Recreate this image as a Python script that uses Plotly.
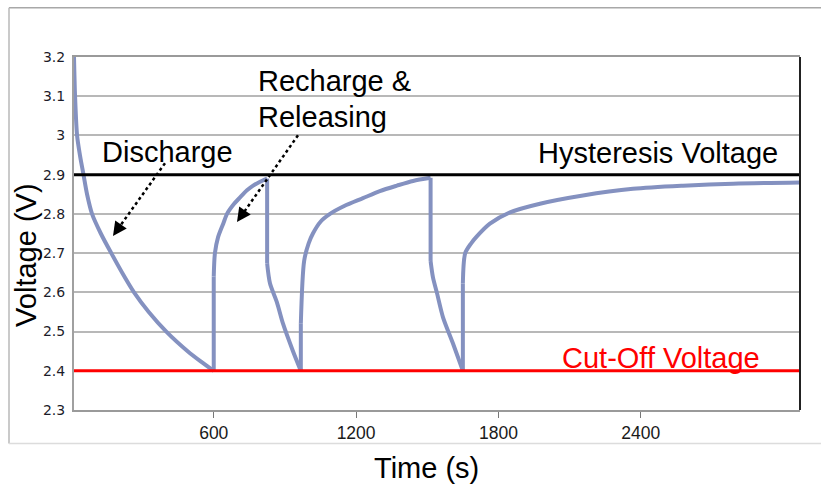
import plotly.graph_objects as go

# Cell voltage during pulsed discharge / rest cycles, one list pair per phase
discharge_1_t = [11, 15.5, 24, 36, 51, 66, 87, 124, 168, 214, 264, 326, 400, 490, 545, 600]
discharge_1_v = [3.2, 3.1, 3.0, 2.95, 2.90, 2.85, 2.80, 2.75, 2.70, 2.65, 2.60, 2.55, 2.50, 2.45, 2.424, 2.40]

recharge_1_t = [600, 605, 618, 640, 656, 685, 711, 740, 766, 795, 825]
recharge_1_v = [2.64, 2.70, 2.74, 2.775, 2.80, 2.825, 2.842, 2.86, 2.872, 2.882, 2.89]

discharge_2_t = [825, 837, 866, 892, 934, 967]
discharge_2_v = [2.674, 2.623, 2.575, 2.52, 2.45, 2.40]

recharge_2_t = [967, 981, 1000, 1018, 1050, 1090, 1150, 1229, 1300, 1372, 1440, 1514]
recharge_2_v = [2.52, 2.68, 2.725, 2.75, 2.78, 2.80, 2.82, 2.84, 2.858, 2.872, 2.884, 2.892]

discharge_3_t = [1514, 1524, 1541, 1566, 1608, 1650]
discharge_3_v = [2.68, 2.638, 2.598, 2.537, 2.47, 2.40]

recharge_3_t = [1650, 1660, 1685, 1708, 1764, 1849, 1975, 2156, 2367, 2578, 2789, 3071]
recharge_3_v = [2.623, 2.70, 2.725, 2.742, 2.775, 2.804, 2.826, 2.847, 2.864, 2.872, 2.877, 2.88]

phases = [
    (discharge_1_t, discharge_1_v),
    (recharge_1_t, recharge_1_v),
    (discharge_2_t, discharge_2_v),
    (recharge_2_t, recharge_2_v),
    (discharge_3_t, discharge_3_v),
    (recharge_3_t, recharge_3_v),
]

hysteresis_v = 2.9
cutoff_v = 2.4

x_ticks = [600, 1200, 1800, 2400]
y_ticks = [2.3, 2.4, 2.5, 2.6, 2.7, 2.8, 2.9, 3.0, 3.1, 3.2]
y_tick_text = ["2.3", "2.4", "2.5", "2.6", "2.7", "2.8", "2.9", "3", "3.1", "3.2"]

X0, X1 = 11, 3071
Y0, Y1 = 2.3, 3.2

W, H = 821, 489
PL, PR, PT, PB = 74, 800, 56.5, 410.5


def dx(px):
    return X0 + (px - PL) / (PR - PL) * (X1 - X0)


def dy(py):
    return Y1 - (py - PT) / (PB - PT) * (Y1 - Y0)


def paper_x(px):
    return (px - PL) / (PR - PL)


def paper_y(py):
    return (PB - py) / (PB - PT)


TXT = "Liberation Sans, Arial, sans-serif"
FS = 29
CURVE = "#8491c0"

# smooth phases joined by gaps; the instant steps between phases drawn straight
curve_t, curve_v, step_t, step_v = [], [], [], []
for i, (t, v) in enumerate(phases):
    curve_t += list(t) + [None]
    curve_v += list(v) + [None]
    if i + 1 < len(phases):
        nt, nv = phases[i + 1]
        step_t += [t[-1], nt[0], None]
        step_v += [v[-1], nv[0], None]

fig = go.Figure()
fig.add_trace(go.Scatter(
    x=step_t, y=step_v, mode="lines", connectgaps=False,
    line=dict(color=CURVE, width=4), hoverinfo="skip", showlegend=False,
))
fig.add_trace(go.Scatter(
    x=curve_t, y=curve_v, mode="lines", connectgaps=False,
    line=dict(color=CURVE, width=4, shape="spline", smoothing=0.8),
    hoverinfo="x+y", showlegend=False,
))

shapes = [
    # reference voltage lines
    dict(type="line", xref="paper", yref="y", x0=0, x1=1, y0=hysteresis_v, y1=hysteresis_v,
         line=dict(color="#000000", width=3)),
    dict(type="line", xref="paper", yref="y", x0=0, x1=1, y0=cutoff_v, y1=cutoff_v,
         line=dict(color="#ff0000", width=3)),
    # right border of plot area
    dict(type="line", xref="paper", yref="paper", x0=1, x1=1, y0=0, y1=1,
         line=dict(color="#222222", width=2)),
    # outer frame
    dict(type="line", xref="paper", yref="paper", x0=paper_x(9), x1=paper_x(830),
         y0=paper_y(7), y1=paper_y(7), line=dict(color="#a8a8a8", width=1.5)),
    dict(type="line", xref="paper", yref="paper", x0=paper_x(9), x1=paper_x(9),
         y0=paper_y(7), y1=paper_y(444), line=dict(color="#b8b8b8", width=1.5)),
    dict(type="line", xref="paper", yref="paper", x0=paper_x(9), x1=paper_x(830),
         y0=paper_y(444), y1=paper_y(444), line=dict(color="#dcdcdc", width=1.5)),
    # dotted pointer lines
    dict(type="line", xref="x", yref="y", x0=dx(165), y0=dy(163), x1=dx(120), y1=dy(226),
         line=dict(color="#000000", width=2.5, dash="dot")),
    dict(type="line", xref="x", yref="y", x0=dx(298), y0=dy(135), x1=dx(244), y1=dy(212),
         line=dict(color="#000000", width=2.5, dash="dot")),
]

annotations = [
    dict(text="Discharge", x=dx(100), y=dy(152), xanchor="left", yanchor="middle"),
    dict(text="Recharge &", x=dx(256), y=dy(80.5), xanchor="left", yanchor="middle"),
    dict(text="Releasing", x=dx(256), y=dy(117), xanchor="left", yanchor="middle"),
    dict(text="Hysteresis Voltage", x=dx(536), y=dy(152.5), xanchor="left", yanchor="middle"),
    dict(text="Cut-Off Voltage", x=dx(560), y=dy(358), xanchor="left", yanchor="middle",
         font=dict(family=TXT, size=FS, color="#ff0000")),
]
for a in annotations:
    a.setdefault("font", dict(family=TXT, size=FS, color="#000000"))
    a.update(xref="x", yref="y", showarrow=False)

# arrowheads
for tip in [(113, 236), (237, 222)]:
    annotations.append(dict(
        x=dx(tip[0]), y=dy(tip[1]), xref="x", yref="y", text="",
        showarrow=True, arrowhead=2, arrowsize=1.4, arrowwidth=2, arrowcolor="#000000",
        ax=9, ay=-13,
    ))

# axis titles
annotations.append(dict(text="Time (s)", x=paper_x(426.5), y=paper_y(469), xref="paper", yref="paper",
                        xanchor="center", yanchor="middle", showarrow=False,
                        font=dict(family=TXT, size=FS, color="#000000")))
annotations.append(dict(text="Voltage (V)", x=paper_x(26), y=paper_y(256), xref="paper", yref="paper",
                        xanchor="center", yanchor="middle", showarrow=False, textangle=-90,
                        font=dict(family=TXT, size=FS, color="#000000")))

fig.update_layout(
    width=W, height=H,
    margin=dict(l=PL, r=W - PR, t=PT, b=H - PB),
    paper_bgcolor="#ffffff", plot_bgcolor="#ffffff",
    shapes=shapes, annotations=annotations,
    xaxis=dict(
        range=[X0, X1], tickvals=x_ticks, ticktext=[str(v) for v in x_ticks],
        showgrid=False, zeroline=False,
        showline=True, linecolor="#9a9a9a", linewidth=2, mirror=True,
        ticks="outside", ticklen=6, tickcolor="#777777", tickwidth=1,
        tickfont=dict(family=TXT, size=17.5, color="#1a1a1a"),
    ),
    yaxis=dict(
        range=[Y0, Y1], tickvals=y_ticks, ticktext=y_tick_text,
        showgrid=True, gridcolor="#b8b8b8", gridwidth=1.5, zeroline=False,
        showline=True, linecolor="#a0a0a0", linewidth=2,
        ticks="", ticklabelstandoff=4,
        tickfont=dict(family="DejaVu Sans, sans-serif", size=14, color="#1c1c2a"),
    ),
)

fig.write_html("out.html")
